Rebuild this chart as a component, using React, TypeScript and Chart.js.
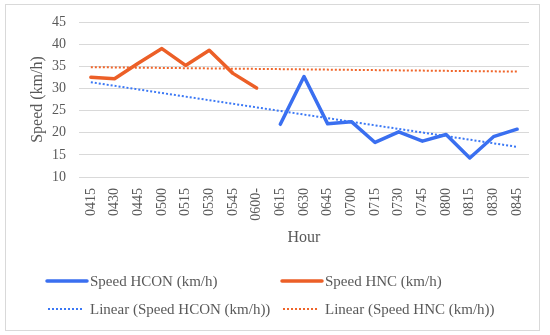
import { useEffect, useRef } from 'react';
import { Chart, registerables } from 'chart.js';

Chart.register(...registerables);

const hours = ['0415', '0430', '0445', '0500', '0515', '0530', '0545', '0600-', '0615', '0630', '0645', '0700', '0715', '0730', '0745', '0800', '0815', '0830', '0845'];
const speedHCON = [null, null, null, null, null, null, null, null, 21.9, 32.7, 22.0, 22.5, 17.8, 20.2, 18.1, 19.6, 14.3, 19.1, 20.8];
const speedHNC = [32.5, 32.2, 35.7, 39.0, 35.2, 38.6, 33.4, 30.1, null, null, null, null, null, null, null, null, null, null, null];
// trend lines: only the two end values of each fitted line are given
const trendHCON = [31.4, null, null, null, null, null, null, null, null, null, null, null, null, null, null, null, null, null, 16.8];
const trendHNC = [34.8, null, null, null, null, null, null, null, null, null, null, null, null, null, null, null, null, null, 33.8];
const yMin = 10;
const yMax = 45;
const yStep = 5;

const FONT = "'Liberation Serif', 'Times New Roman', serif";
const BLUE = '#3a6ff0';
const ORANGE = '#ec5f27';
const TEXT = '#595959';

const framePlugin = {
  id: 'frame',
  beforeDraw(chart: any) {
    const ctx = chart.ctx;
    ctx.save();
    ctx.fillStyle = '#ffffff';
    ctx.fillRect(0, 0, chart.width, chart.height);
    ctx.strokeStyle = '#d9d9d9';
    ctx.lineWidth = 1;
    ctx.strokeRect(5.5, 4.5, 534, 326);
    ctx.restore();
  },
};

const gridLegendPlugin = {
  id: 'gridLegend',
  afterDraw(chart: any) {
    const ctx = chart.ctx;
    const cols = [46, 281];
    const rows = [281, 309];
    ctx.save();
    chart.data.datasets.forEach((ds: any, i: number) => {
      const x = cols[i % 2];
      const y = rows[Math.floor(i / 2)];
      const dashed = ds.borderDash && ds.borderDash.length;
      ctx.beginPath();
      ctx.strokeStyle = ds.borderColor;
      ctx.lineWidth = ds.borderWidth;
      ctx.setLineDash(dashed ? ds.borderDash : []);
      ctx.lineCap = dashed ? 'butt' : 'round';
      if (dashed) {
        ctx.moveTo(x + 2, y);
        ctx.lineTo(x + 38, y);
      } else {
        ctx.moveTo(x + 1, y);
        ctx.lineTo(x + 41, y);
      }
      ctx.stroke();
      ctx.setLineDash([]);
      ctx.fillStyle = TEXT;
      ctx.font = `15px ${FONT}`;
      ctx.textBaseline = 'middle';
      ctx.textAlign = 'left';
      ctx.fillText(ds.label, x + 44, y + 1);
    });
    ctx.restore();
  },
};

export default function App() {
  const ref = useRef<HTMLCanvasElement>(null);

  useEffect(() => {
    if (!ref.current) return;
    const chart = new Chart(ref.current, {
      type: 'line',
      data: {
        labels: hours,
        datasets: [
          {
            label: 'Speed HCON (km/h)',
            data: speedHCON,
            borderColor: BLUE,
            borderWidth: 3.5,
            pointRadius: 0,
            tension: 0,
            borderJoinStyle: 'round',
            borderCapStyle: 'round',
            order: 2,
          },
          {
            label: 'Speed HNC (km/h)',
            data: speedHNC,
            borderColor: ORANGE,
            borderWidth: 3.5,
            pointRadius: 0,
            tension: 0,
            borderJoinStyle: 'round',
            borderCapStyle: 'round',
            order: 2,
          },
          {
            label: 'Linear (Speed HCON (km/h))',
            data: trendHCON,
            borderColor: '#3b78f5',
            borderWidth: 2,
            borderDash: [2, 2],
            pointRadius: 0,
            spanGaps: true,
            order: 1,
          },
          {
            label: 'Linear (Speed HNC (km/h))',
            data: trendHNC,
            borderColor: '#f0652a',
            borderWidth: 2,
            borderDash: [2, 2],
            pointRadius: 0,
            spanGaps: true,
            order: 1,
          },
        ] as any,
      },
      options: {
        animation: false,
        responsive: false,
        devicePixelRatio: 1,
        layout: { padding: { left: 20, top: 22, right: 21, bottom: 83 } },
        plugins: {
          legend: { display: false },
          tooltip: { enabled: false },
        },
        scales: {
          x: {
            offset: true,
            grid: { display: false, drawTicks: false },
            border: { display: false },
            ticks: {
              autoSkip: false,
              minRotation: 90,
              maxRotation: 90,
              padding: 11,
              color: TEXT,
              font: { family: FONT, size: 14 },
            },
            title: {
              display: true,
              text: 'Hour',
              color: TEXT,
              font: { family: FONT, size: 16 },
              padding: { top: 0, bottom: 5 },
            },
            afterFit(scale: any) {
              scale.height = 75;
            },
          },
          y: {
            min: yMin,
            max: yMax,
            ticks: {
              stepSize: yStep,
              padding: 13,
              color: TEXT,
              font: { family: FONT, size: 14 },
            },
            grid: { color: '#d9d9d9', lineWidth: 1, drawTicks: false },
            border: { display: false },
            title: {
              display: true,
              text: 'Speed (km/h)',
              color: TEXT,
              font: { family: FONT, size: 16 },
              padding: { top: 8, bottom: 0 },
            },
            afterFit(scale: any) {
              scale.width = 59;
            },
          },
        },
      },
      plugins: [framePlugin, gridLegendPlugin],
    });
    return () => chart.destroy();
  }, []);

  return (
    <div style={{ position: 'fixed', left: 0, top: 0, width: 550, height: 335, background: '#fff' }}>
      <canvas ref={ref} width={550} height={335} style={{ width: 550, height: 335, display: 'block' }} />
    </div>
  );
}
